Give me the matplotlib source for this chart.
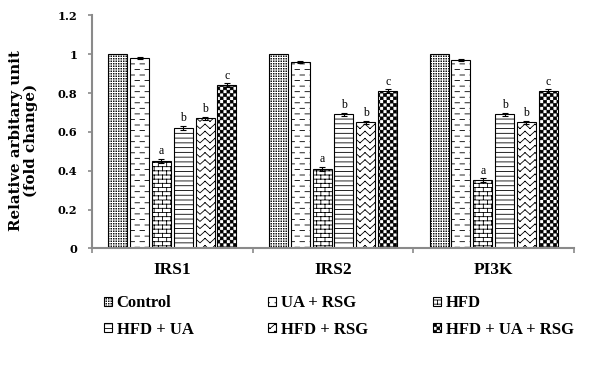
import warnings
import numpy as np
import matplotlib
matplotlib.use("Agg")
import matplotlib.pyplot as plt
from matplotlib import hatch as mhatch
from matplotlib.path import Path

warnings.filterwarnings("ignore")

# ---------------- data ----------------
targets = ["IRS1", "IRS2", "PI3K"]
groups = ["Control", "UA + RSG", "HFD", "HFD + UA", "HFD + RSG", "HFD + UA + RSG"]
irs1 = [1.00, 0.98, 0.45, 0.62, 0.67, 0.84]
irs2 = [1.00, 0.96, 0.41, 0.69, 0.65, 0.81]
pi3k = [1.00, 0.97, 0.35, 0.69, 0.65, 0.81]
irs1_err = [0.0, 0.006, 0.010, 0.010, 0.008, 0.010]
irs2_err = [0.0, 0.006, 0.010, 0.008, 0.008, 0.010]
pi3k_err = [0.0, 0.004, 0.010, 0.008, 0.008, 0.010]
sig_letters = ["", "", "a", "b", "b", "c"]
yticks = [0, 0.2, 0.4, 0.6, 0.8, 1.0, 1.2]
ytick_labels = ["0", "0.2", "0.4", "0.6", "0.8", "1", "1.2"]

# ---------------- custom hatch patterns ----------------
mhatch._validate_hatch_pattern = lambda h: None


def _segs(segs):
    v, c = [], []
    for x0, y0, x1, y1 in segs:
        v += [(x0, y0), (x1, y1)]
        c += [Path.MOVETO, Path.LINETO]
    return v, c


def _squares(sq):
    v, c = [], []
    for x, y, s in sq:
        v += [(x, y), (x + s, y), (x + s, y + s), (x, y + s), (x, y)]
        c += [Path.MOVETO, Path.LINETO, Path.LINETO, Path.LINETO, Path.CLOSEPOLY]
    return v, c


def build_stipple():
    n = 40
    s = 0.006
    sq = []
    for i in range(n):
        for j in range(n):
            sq.append(((i + 0.5) / n - s / 2, (j + 0.5) / n - s / 2, s))
    return _squares(sq)


def build_dash():
    rows, per = 18, 10
    segs = []
    for r in range(rows):
        y = (r + 0.5) / rows
        off = (0.5 / per) if r % 2 else 0.0
        for k in range(-1, per + 1):
            x0 = k / per + off
            segs.append((x0, y, x0 + 0.045, y))
    return _segs(segs)


def build_brick():
    rows, per = 24, 12
    segs = []
    for r in range(rows + 1):
        y = r / rows
        segs.append((0, y, 1, y))
    for r in range(rows):
        y0, y1 = r / rows, (r + 1) / rows
        off = (0.5 / per) if r % 2 else 0.0
        for k in range(per + 1):
            x = k / per + off
            segs.append((x, y0, x, y1))
    return _segs(segs)


def build_horiz():
    rows = 21
    segs = [(0, r / rows, 1, r / rows) for r in range(rows + 1)]
    return _segs(segs)


def build_wave():
    rows, per = 14, 10
    segs = []
    amp = 0.045
    for r in range(-1, rows + 1):
        y = r / rows
        for k in range(per):
            x0 = k / per
            xm = x0 + 0.5 / per
            x1 = (k + 1) / per
            segs.append((x0, y, xm, y + amp))
            segs.append((xm, y + amp, x1, y))
    return _segs(segs)


def build_checker():
    n = 30
    s = 1 / n
    sq = []
    for i in range(n):
        for j in range(n):
            if (i + j) % 2 == 0:
                sq.append((i * s + 0.003, j * s + 0.003, s - 0.006))
    return _squares(sq)


def make_hatch_class(char, builder):
    cache = {}

    class _H(mhatch.HatchPatternBase):
        def __init__(self, hatch, density):
            self.on = char in hatch
            if self.on:
                if "vc" not in cache:
                    v, c = builder()
                    cache["vc"] = (np.array(v, float), np.array(c, Path.code_type))
                self.v, self.c = cache["vc"]
                self.num_vertices = len(self.v)
            else:
                self.num_vertices = 0

        def set_vertices_and_codes(self, vertices, codes):
            vertices[:] = self.v
            codes[:] = self.c

    return _H


for ch, b in [("s", build_stipple), ("d", build_dash), ("b", build_brick),
              ("h", build_horiz), ("w", build_wave), ("k", build_checker)]:
    mhatch._hatch_types.append(make_hatch_class(ch, b))

hatches = ["s", "d", "b", "h", "w", "k"]

# ---------------- figure ----------------
plt.rcParams["hatch.linewidth"] = 0.6
plt.rcParams["hatch.color"] = "black"

axis_font = "DejaVu Serif"
label_font = "Liberation Serif"
grey = "#8a8a8a"

fig = plt.figure(figsize=(5.96, 3.74), dpi=100)
ax = fig.add_axes([0.1544, 0.336, 0.8087, 0.623])

data = np.array([irs1, irs2, pi3k])
errs = np.array([irs1_err, irs2_err, pi3k_err])
x = np.arange(len(targets))
spacing = 0.136
width = 0.118

bar_handles = []
for i, g in enumerate(groups):
    xi = x + (i - 2.5) * spacing
    bars = ax.bar(xi, data[:, i], width=width, facecolor="white", edgecolor="black",
                  linewidth=0.8, hatch=hatches[i], label=g, zorder=2)
    bar_handles.append(bars)
    if i > 0:
        ax.errorbar(xi, data[:, i], yerr=errs[:, i], fmt="none", ecolor="black",
                    elinewidth=0.8, capsize=2.5, capthick=0.8, zorder=3)
    for j in range(len(targets)):
        if sig_letters[i]:
            ax.text(xi[j], data[j, i] + errs[j, i] + 0.008, sig_letters[i],
                    ha="center", va="bottom", fontsize=8.5, family=label_font,
                    zorder=4)

ax.set_ylim(0, 1.2)
ax.set_xlim(-0.5, 2.5)
ax.set_yticks(yticks)
ax.set_yticklabels(ytick_labels, fontsize=8.2, fontweight="bold", family=axis_font)
ax.set_xticks([-0.5, 0.5, 1.5, 2.5])
ax.set_xticklabels([])
ax.set_xticks(x, minor=True)
ax.set_xticklabels(targets, minor=True, fontsize=12.5, fontweight="bold", family=label_font)
ax.tick_params(axis="x", which="minor", length=0, pad=10)
ax.tick_params(axis="x", which="major", direction="out", length=3.5, width=1.2, color=grey)
ax.tick_params(axis="y", direction="out", length=3, width=1.2, color=grey, pad=7.5)
for side in ["top", "right"]:
    ax.spines[side].set_visible(False)
for side in ["left", "bottom"]:
    ax.spines[side].set_color(grey)
    ax.spines[side].set_linewidth(1.5)

ax.set_ylabel("Relative arbitary unit\n(fold change)", fontsize=10.8, fontweight="bold",
              family=axis_font, linespacing=1.1)
ax.yaxis.set_label_coords(-0.112, 0.464)

# ---------------- legend (three columns) ----------------
col_x = [106 / 596, 270 / 596, 435 / 596]
cols = [[0, 3], [1, 4], [2, 5]]
for cx, idx in zip(col_x, cols):
    leg = fig.legend([bar_handles[k] for k in idx], [groups[k] for k in idx],
                     loc="upper left", bbox_to_anchor=(cx - 0.003, 0.211),
                     frameon=False, borderpad=0, borderaxespad=0,
                     handlelength=0.45, handleheight=0.45, handletextpad=0.3,
                     labelspacing=0.63,
                     prop={"family": label_font, "weight": "bold", "size": 12})

fig.savefig("out.png", dpi=100)
